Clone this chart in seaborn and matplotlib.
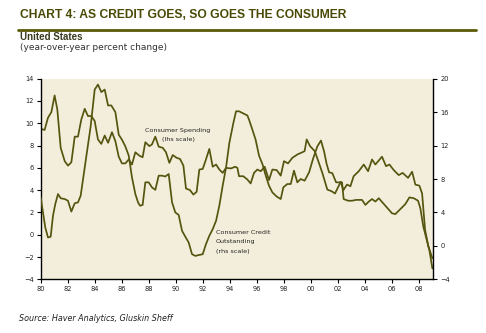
import matplotlib
matplotlib.use("Agg")
import matplotlib.pyplot as plt
from matplotlib.lines import Line2D
import pandas as pd
import seaborn as sns

# Consumer spending, y/y % change (left scale)
spending_dates = [
    1980.00, 1980.29, 1980.54, 1980.79, 1981.03, 1981.23, 1981.48, 1981.78, 1982.02, 1982.27,
    1982.52, 1982.76, 1983.01, 1983.26, 1983.50, 1983.75, 1984.00, 1984.24, 1984.49, 1984.74,
    1984.99, 1985.28, 1985.53, 1985.78, 1986.02, 1986.27, 1986.52, 1986.76, 1987.01, 1987.30,
    1987.55, 1987.75, 1988.05, 1988.24, 1988.49, 1988.74, 1989.04, 1989.28, 1989.53, 1989.78,
    1990.07, 1990.32, 1990.57, 1990.76, 1991.06, 1991.31, 1991.55, 1991.75, 1992.00, 1992.24,
    1992.49, 1992.74, 1992.99, 1993.23, 1993.48, 1993.73, 1994.10, 1994.40, 1994.57, 1994.69,
    1995.01, 1995.31, 1995.55, 1995.80, 1996.05, 1996.30, 1996.59, 1996.91, 1997.16, 1997.48,
    1997.78, 1998.02, 1998.32, 1998.64, 1999.01, 1999.38, 1999.55, 1999.70, 1999.95, 2000.30,
    2000.62, 2000.86, 2001.23, 2001.55, 2001.80, 2002.22, 2002.42, 2002.69, 2002.94, 2003.18,
    2003.56, 2003.93, 2004.25, 2004.54, 2004.79, 2005.28, 2005.58, 2005.83, 2006.15, 2006.52,
    2006.81, 2007.21, 2007.51, 2007.75, 2008.05, 2008.25, 2008.47, 2008.71, 2009.01,
]
spending_pct = [
    9.5, 9.4, 10.5, 11.0, 12.5, 11.25, 7.8, 6.6, 6.2, 6.5,
    8.8, 8.8, 10.35, 11.3, 10.65, 10.65, 10.2, 8.55, 8.15, 8.9,
    8.25, 9.2, 8.4, 7.0, 6.4, 6.4, 6.75, 6.3, 7.4, 7.1,
    6.95, 8.3, 7.95, 8.1, 8.8, 7.9, 7.8, 7.4, 6.45, 7.15,
    6.9, 6.8, 6.2, 4.15, 4.0, 3.6, 3.85, 5.85, 5.9, 6.75,
    7.7, 6.1, 6.3, 5.85, 5.55, 6.0, 5.95, 6.1, 6.0, 5.25,
    5.25, 4.95, 4.6, 5.55, 5.85, 5.7, 6.1, 4.9, 5.85, 5.8,
    5.3, 6.6, 6.4, 6.9, 7.2, 7.4, 7.5, 8.55, 7.95, 7.5,
    6.4, 5.55, 4.05, 3.9, 3.7, 4.75, 4.0, 4.5, 4.35, 5.25,
    5.7, 6.3, 5.7, 6.75, 6.3, 7.0, 6.15, 6.3, 5.8, 5.35,
    5.55, 5.1, 5.65, 4.5, 4.4, 3.7, 0.45, -1.05, -2.1,
]

# Consumer credit outstanding, y/y % change (right scale)
credit_dates = [
    1980.00, 1980.17, 1980.34, 1980.54, 1980.74, 1980.91, 1981.08, 1981.28, 1981.48, 1981.78,
    1982.02, 1982.27, 1982.52, 1982.76, 1982.96, 1983.21, 1983.45, 1983.70, 1984.00, 1984.24,
    1984.49, 1984.74, 1984.99, 1985.23, 1985.53, 1985.78, 1986.02, 1986.27, 1986.52, 1986.76,
    1987.01, 1987.21, 1987.36, 1987.55, 1987.75, 1988.00, 1988.24, 1988.49, 1988.74, 1988.99,
    1989.23, 1989.48, 1989.73, 1989.97, 1990.22, 1990.47, 1990.71, 1990.96, 1991.21, 1991.46,
    1991.70, 1992.00, 1992.24, 1992.49, 1992.74, 1992.99, 1993.23, 1993.48, 1993.73, 1993.97,
    1994.27, 1994.47, 1994.69, 1994.94, 1995.31, 1995.43, 1995.68, 1995.92, 1996.17, 1996.42,
    1996.67, 1996.91, 1997.16, 1997.48, 1997.78, 1997.97, 1998.27, 1998.52, 1998.76, 1999.01,
    1999.26, 1999.55, 1999.88, 2000.17, 2000.49, 2000.76, 2000.99, 2001.18, 2001.36, 2001.60,
    2001.88, 2002.20, 2002.32, 2002.44, 2002.77, 2003.06, 2003.36, 2003.80, 2004.05, 2004.30,
    2004.54, 2004.79, 2005.04, 2005.53, 2006.02, 2006.27, 2006.64, 2007.01, 2007.31, 2007.63,
    2007.95, 2008.12, 2008.34, 2008.79, 2009.01,
]
credit_pct = [
    5.8, 4.0, 2.2, 1.0, 1.1, 3.6, 5.0, 6.2, 5.7, 5.6,
    5.4, 4.1, 5.1, 5.2, 6.0, 8.8, 11.5, 14.3, 18.7, 19.3,
    18.4, 18.7, 16.8, 16.8, 16.0, 13.3, 12.7, 11.9, 10.8, 8.2,
    6.2, 5.2, 4.8, 4.9, 7.6, 7.6, 7.0, 6.7, 8.4, 8.4,
    8.3, 8.6, 5.2, 4.0, 3.7, 1.8, 1.1, 0.4, -1.0, -1.2,
    -1.1, -1.0, 0.2, 1.2, 2.0, 3.0, 4.8, 7.2, 9.4, 12.3,
    14.7, 16.1, 16.1, 15.9, 15.6, 15.1, 13.9, 12.7, 10.8, 9.8,
    8.4, 7.2, 6.4, 5.9, 5.6, 7.0, 7.4, 7.4, 9.0, 7.6,
    8.0, 7.8, 8.8, 10.4, 11.9, 12.6, 11.3, 9.8, 8.8, 8.7,
    7.6, 7.6, 7.6, 5.6, 5.4, 5.4, 5.5, 5.5, 4.9, 5.3,
    5.6, 5.3, 5.7, 4.8, 3.9, 3.8, 4.4, 5.0, 5.8, 5.7,
    5.4, 4.5, 2.3, -0.5, -2.7,
]

tick_years = list(range(1980, 2009, 2))
tick_labels = ["80", "82", "84", "86", "88", "90", "92", "94",
               "96", "98", "00", "02", "04", "06", "08"]
lhs_ticks = [-4, -2, 0, 2, 4, 6, 8, 10, 12, 14]
rhs_ticks = [-4, 0, 4, 8, 12, 16, 20]

spending = pd.DataFrame({"date": spending_dates, "pct": spending_pct})
credit = pd.DataFrame({"date": credit_dates, "pct": credit_pct})

sns.set_style("ticks")
plt.rcParams["font.family"] = ["DejaVu Sans"]

OLIVE = "#55550f"
TITLE = "#4a4a06"
PANEL = "#f3eedb"
W, H = 486, 333

fig = plt.figure(figsize=(W / 100, H / 100), dpi=100)
fig.patch.set_facecolor("white")

left, right, top, bottom = 40.7, 433.3, 78.7, 279.3
ax = fig.add_axes([left / W, 1 - bottom / H, (right - left) / W, (bottom - top) / H])
ax.set_facecolor(PANEL)
ax2 = ax.twinx()

sns.lineplot(data=spending, x="date", y="pct", ax=ax, color=OLIVE,
             linewidth=1.25, estimator=None, sort=False)
sns.lineplot(data=credit, x="date", y="pct", ax=ax2, color=OLIVE,
             linewidth=1.25, estimator=None, sort=False)

ax.set_xlim(1980, 2009.08)
ax.set_ylim(-4, 14)
ax2.set_ylim(-4, 20)
ax.set_xticks(tick_years)
ax.set_xticklabels(tick_labels)
ax.set_yticks(lhs_ticks)
ax2.set_yticks(rhs_ticks)
for a in (ax, ax2):
    a.set_xlabel("")
    a.set_ylabel("")
    a.grid(False)
    a.spines["top"].set_visible(False)
    for s in ("left", "right", "bottom"):
        a.spines[s].set_linewidth(1.0)
        a.spines[s].set_color("black")
    a.tick_params(length=3, width=0.8, pad=2, labelsize=4.8,
                  labelcolor="#222222", color="black")
ax.spines["right"].set_visible(False)
ax2.spines["left"].set_visible(False)
ax2.spines["bottom"].set_visible(False)

# Series annotations
ax.text(1990.17, 9.35, "Consumer Spending", fontsize=4.6, ha="center",
        va="center", color="#222222")
ax.text(1990.17, 8.5, "(lhs scale)", fontsize=4.6, ha="center",
        va="center", color="#222222")
for yv, line in zip([0.2, -0.65, -1.55],
                    ["Consumer Credit", "Outstanding", "(rhs scale)"]):
    ax.text(1992.95, yv, line, fontsize=4.6, ha="left", va="center",
            color="#222222")

# Header block
fig.text(20 / W, 1 - 15 / H, "CHART 4: AS CREDIT GOES, SO GOES THE CONSUMER",
         fontsize=8.7, fontweight="bold", family=["Liberation Sans"],
         color=TITLE, va="center", ha="left")
fig.add_artist(Line2D([18 / W, 476 / W], [1 - 29.5 / H, 1 - 29.5 / H],
                      color="#5a5a08", linewidth=2.0))
fig.text(20 / W, 1 - 37.5 / H, "United States", fontsize=7, fontweight="bold",
         family=["Liberation Sans"], color="#3a3a20", va="center", ha="left")
fig.text(20 / W, 1 - 48 / H, "(year-over-year percent change)", fontsize=6.5,
         color="#333333", va="center", ha="left")

fig.text(19 / W, 1 - 318.5 / H, "Source: Haver Analytics, Gluskin Sheff",
         fontsize=5.8, style="italic", color="#222222", va="center", ha="left")

fig.savefig("out.png", dpi=100, facecolor="white")
